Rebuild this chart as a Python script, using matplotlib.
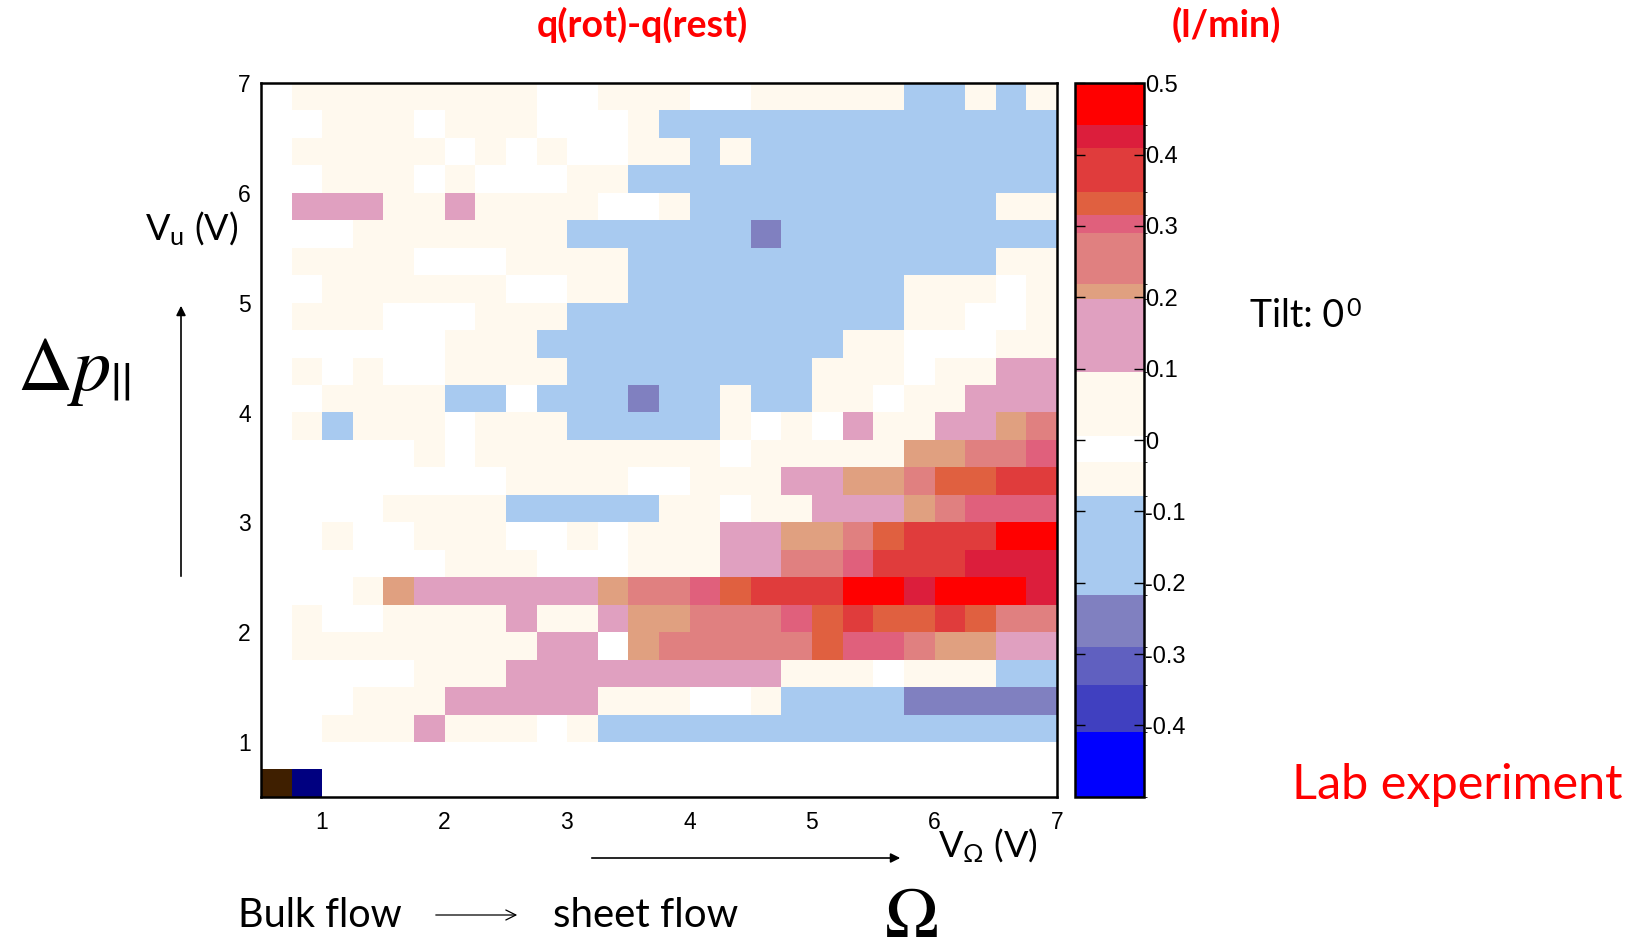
import numpy as np
import matplotlib
matplotlib.use("Agg")
import matplotlib.pyplot as plt
from matplotlib.colors import ListedColormap, BoundaryNorm

plt.rcParams['font.family'] = ['Lato', 'DejaVu Sans']
plt.rcParams['mathtext.fontset'] = 'custom'
plt.rcParams['mathtext.rm'] = 'Lato'
plt.rcParams['mathtext.it'] = 'Lato:italic'

W, H = 1648, 947

# colour bar bands (l/min), bottom to top
band_edges = [-0.5, -0.41, -0.343, -0.29, -0.217, -0.078, -0.031, 0.005, 0.095,
              0.197, 0.219, 0.29, 0.316, 0.348, 0.41, 0.441, 0.5]
band_colors = ['#0000ff', '#4040c0', '#6060c0', '#8080c0', '#a8caf0',
               '#fff9ee', '#ffffff', '#fff9ee', '#e0a0c0', '#e0a080',
               '#e08080', '#e0607c', '#e06040', '#e03c3c', '#dc1e3c', '#ff0000']

# q(rot)-q(rest) per measured level
levels = {'N': -0.6, 'V': -0.25, 'B': -0.15, 'W': -0.02, 'C': 0.05,
          'P': 0.14, 'T': 0.21, 'S': 0.25, 'K': 0.30, 'O': 0.33,
          'E': 0.38, 'M': 0.42, 'R': 0.47, 'D': 0.6}

# grid rows from V_u = 7 (top) down to 0.5, columns V_omega 0.5 -> 7 in 0.25 V steps
grid_rows = [
    "WCCCCCCCCWWCCCWWCCCCCBBCBC",
    "WWCCCWCCCWWWCBBBBBBBBBBBBB",
    "WCCCCCWCWCWWCCBCBBBBBBBBBB",
    "WWCCCWCWWWCCBBBBBBBBBBBBBB",
    "WPPPCCPCCCCWWCBBBBBBBBBBCC",
    "WWWCCCCCCCBBBBBBVBBBBBBBBB",
    "WCCCCWWWCCCCBBBBBBBBBBBBCC",
    "WWCCCCCCWWCCBBBBBBBBBCCCWC",
    "WCCCWWWCCCBBBBBBBBBBBCCWWC",
    "WWWWWWCCCBBBBBBBBBBCCWWWCC",
    "WCWCWWCCCCBBBBBBBBCCCWCCPP",
    "WWCCCCBBWBBBVBBCBBCCWCCPPP",
    "WCBCCCWCCCBBBBBCWCWPCCPPTS",
    "WWWWWCWCCCCCCCCWCCCCCTTSSK",
    "WWWWWWWWCCCCWWCCCPPTTSOOEE",
    "WWWWCCCCBBBBBCCWCCPPPTSKKK",
    "WWCWWCCCWWCWCCCPPTTSOEEERR",
    "WWWWWWCCCWWWCCCPPSSKEEEMMM",
    "WWWCTPPPPPPTSSKOEEERRMRRRM",
    "WCWWCCCCPCCPTTSSSKOEOOEOSS",
    "WCCCCCCCCPPWTSSSSSOKKSTTPP",
    "WWWWWCCCPPPPPPPPPCCCWCCCBB",
    "WWWCCCPPPPPCCCWWCBBBBVVVVV",
    "WWCCCPCCCWCBBBBBBBBBBBBBBB",
    "WWWWWWWWWWWWWWWWWWWWWWWWWW",
    "DNWWWWWWWWWWWWWWWWWWWWWWWW",
]
z = np.array([[levels[c] for c in row] for row in grid_rows])

cmap = ListedColormap(band_colors)
cmap.set_over('#3f1f00')
cmap.set_under('#000080')
norm = BoundaryNorm(band_edges, cmap.N)

fig = plt.figure(figsize=(W / 100, H / 100), dpi=100)
ax = fig.add_axes([260.7 / W, 1 - 796.7 / H, 796 / W, 713.4 / H])
im = ax.imshow(z, extent=[0.5, 7, 0.5, 7], origin='upper', cmap=cmap,
               norm=norm, aspect='auto', interpolation='nearest')
ax.set_xlim(0.5, 7)
ax.set_ylim(0.5, 7)
ax.set_xticks(range(1, 8))
ax.set_yticks(range(1, 8))
ax.tick_params(length=0, labelsize=16.5, pad=10)
ax.tick_params(axis='y', pad=7)
for lab in ax.get_xticklabels() + ax.get_yticklabels():
    lab.set_family('Liberation Sans')
for s in ax.spines.values():
    s.set_linewidth(1.8)

cax = fig.add_axes([1075 / W, 1 - 796.7 / H, 69 / W, 713.4 / H])
ticks = [-0.4, -0.3, -0.2, -0.1, 0, 0.1, 0.2, 0.3, 0.4, 0.5]
cb = fig.colorbar(im, cax=cax, spacing='proportional', ticks=ticks)
cb.set_ticklabels(['-0.4', '-0.3', '-0.2', '-0.1', '0', '0.1', '0.2', '0.3', '0.4', '0.5'])
cb.ax.tick_params(direction='in', left=True, right=True, length=7, width=1,
                  labelsize=17, pad=1)
for lab in cb.ax.get_yticklabels():
    lab.set_family('Liberation Sans')
cb.outline.set_linewidth(1.8)

red = '#ff0000'
fig.text(642 / W, 1 - 25 / H, 'q(rot)-q(rest)', color=red, fontsize=27,
         fontweight='bold', ha='center', va='center')
fig.text(1226 / W, 1 - 25 / H, '(l/min)', color=red, fontsize=27,
         fontweight='bold', ha='center', va='center')

tilt = fig.text(1250 / W, 1 - 316 / H, 'Tilt: 0', fontsize=27, ha='left', va='center')
ax.annotate('0', xy=(1.0, 1.0), xycoords=tilt, xytext=(1.5, 1),
            textcoords='offset points', fontsize=18, ha='left', va='top')

fig.text(1457 / W, 1 - 785 / H, 'Lab experiment', color=red, fontsize=35,
         ha='center', va='center')

fig.text(74 / W, 1 - 372 / H, r'$\Delta p_{||}$', fontsize=55,
         math_fontfamily='stix', ha='center', va='center')
fig.text(192 / W, 1 - 229 / H, r'V$_{\mathrm{u}}$ (V)', fontsize=26,
         ha='center', va='center')
fig.text(988 / W, 1 - 846 / H, r'V$_{\Omega}$ (V)', fontsize=26,
         ha='center', va='center')

fig.text(320 / W, 1 - 915 / H, 'Bulk flow', fontsize=28.5, ha='center', va='center')
fig.text(646 / W, 1 - 915 / H, 'sheet flow', fontsize=29, ha='center', va='center')
fig.text(911 / W, 1 - 916 / H, r'$\mathrm{\Omega}$', fontsize=52,
         math_fontfamily='stix', ha='center', va='center')

# direction arrows
ax.annotate('', xy=(520, H - 915), xycoords='figure pixels',
            xytext=(433, H - 915), textcoords='figure pixels',
            arrowprops=dict(arrowstyle='->', color='black', lw=0.9,
                            mutation_scale=18))
ax.annotate('', xy=(181, H - 303), xycoords='figure pixels',
            xytext=(181, H - 579), textcoords='figure pixels',
            arrowprops=dict(arrowstyle='-|>', color='black', lw=1.2,
                            mutation_scale=14))
ax.annotate('', xy=(903, H - 858), xycoords='figure pixels',
            xytext=(589, H - 858), textcoords='figure pixels',
            arrowprops=dict(arrowstyle='-|>', color='black', lw=1.2,
                            mutation_scale=14))

fig.savefig('out.png', dpi=100)
